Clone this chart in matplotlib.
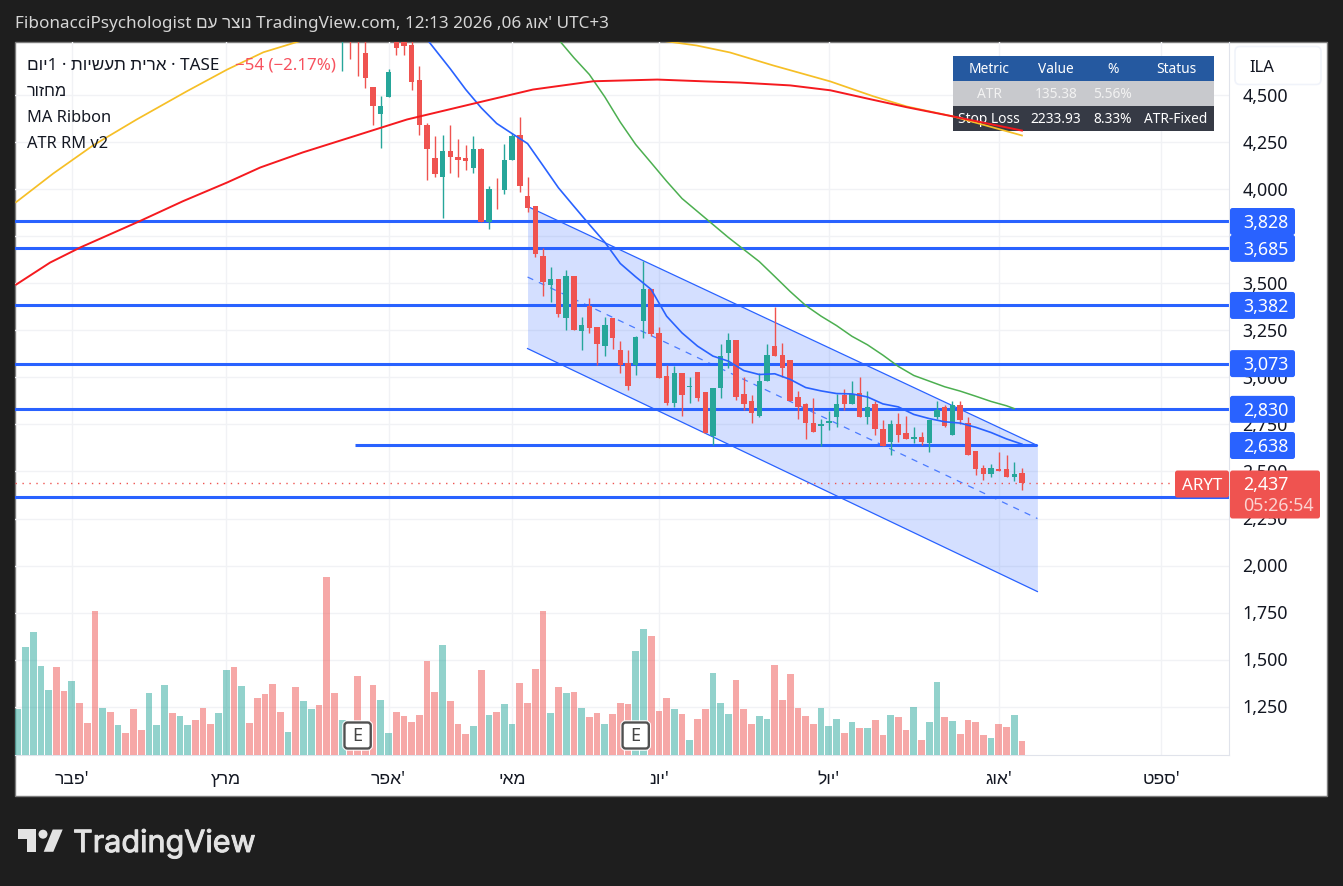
import matplotlib
matplotlib.use('Agg')
import matplotlib.pyplot as plt
from matplotlib.patches import Rectangle, FancyBboxPatch, Polygon, Circle
from matplotlib.transforms import Affine2D, ScaledTranslation, blended_transform_factory
import matplotlib.patheffects as pe
import numpy as np

plt.rcParams['font.family'] = ['Noto Sans', 'Liberation Sans', 'DejaVu Sans']

W, H = 1343, 887


def heb(s):
    # matplotlib has no bidi, hebrew runs go in visual order
    return s[::-1]


# ---- data ----
first_candle = 42
candle_open = [4800, 4850, 4860, 4721, 4540, 4397, 4487, 4810, 4810, 4763, 4582, 4343, 4163, 4062, 4200,
               4173, 4163, 4110, 4211, 3823, 4003, 3993, 4157, 4285, 3966, 3908, 3647, 3488, 3520, 3313,
               3536, 3244, 3377, 3265, 3164, 3313, 3143, 3077, 3068, 3297, 3467, 3233, 3005, 2866, 3021,
               2948, 3026, 2920, 2691, 2941, 3132, 3196, 2909, 2877, 2797, 2978, 3169, 3121, 3090, 2898,
               2856, 2760, 2744, 2755, 2792, 2904, 2861, 2916, 2792, 2856, 2728, 2654, 2750, 2702, 2675,
               2681, 2649, 2787, 2840, 2696, 2851, 2755, 2611, 2516, 2484, 2511, 2511, 2473, 2491]
candle_high = [4900, 4870, 4880, 4790, 4540, 4497, 4636, 4830, 4830, 4800, 4652, 4349, 4280, 4285, 4343,
               4264, 4232, 4280, 4216, 4014, 4057, 4242, 4296, 4381, 4067, 3908, 3685, 3584, 3520, 3568,
               3536, 3318, 3419, 3270, 3323, 3313, 3191, 3143, 3222, 3616, 3467, 3270, 3063, 3058, 3021,
               3000, 3026, 2920, 2946, 3175, 3233, 3196, 3000, 2904, 3021, 3175, 3375, 3180, 3090, 2930,
               2866, 2888, 2781, 2819, 2914, 2936, 2983, 3000, 2925, 2877, 2776, 2771, 2808, 2797, 2734,
               2712, 2776, 2877, 2851, 2877, 2877, 2792, 2611, 2532, 2542, 2606, 2585, 2548, 2521]
candle_low = [4630, 4689, 4600, 4535, 4338, 4218, 4487, 4710, 4715, 4529, 4290, 4051, 4067, 3849, 4083,
              4067, 4104, 4083, 3823, 3786, 3897, 3972, 4157, 3987, 3876, 3642, 3430, 3398, 3318, 3249,
              3249, 3143, 3238, 3063, 3116, 3148, 3021, 2932, 3010, 3207, 3222, 2994, 2851, 2845, 2797,
              2866, 2877, 2702, 2638, 2888, 3052, 2882, 2824, 2755, 2787, 2978, 3116, 3000, 2872, 2781,
              2670, 2712, 2633, 2718, 2734, 2824, 2861, 2792, 2750, 2696, 2633, 2585, 2654, 2675, 2649,
              2638, 2606, 2781, 2734, 2696, 2750, 2585, 2479, 2457, 2473, 2505, 2473, 2452, 2404]
candle_close = [4860, 4790, 4790, 4588, 4441, 4444, 4620, 4752, 4758, 4567, 4338, 4211, 4078, 4200, 4168,
                4157, 4147, 4211, 3823, 3998, 3998, 4157, 4280, 4019, 3902, 3653, 3509, 3520, 3339, 3536,
                3249, 3276, 3260, 3175, 3276, 3207, 3068, 2953, 3212, 3467, 3228, 2999, 2866, 3021, 2904,
                2953, 2888, 2702, 2946, 3116, 3201, 2898, 2861, 2813, 2983, 3121, 3116, 3052, 2872, 2845,
                2755, 2712, 2750, 2766, 2856, 2861, 2914, 2792, 2840, 2723, 2633, 2750, 2696, 2675, 2681,
                2654, 2776, 2824, 2739, 2851, 2771, 2585, 2511, 2484, 2521, 2505, 2473, 2489, 2437]

volume = [138, 324, 369, 267, 195, 264, 192, 222, 156, 96, 432, 141, 129, 90, 66, 138, 75, 186, 90, 210,
          126, 117, 90, 105, 141, 93, 126, 255, 264, 207, 96, 171, 183, 213, 129, 69, 204, 162, 138, 150,
          534, 186, 105, 85, 237, 85, 210, 165, 66, 129, 117, 99, 120, 282, 189, 330, 162, 93, 63, 87,
          255, 120, 129, 153, 93, 216, 156, 258, 432, 126, 204, 186, 189, 141, 114, 126, 93, 123, 156, 153,
          312, 378, 357, 132, 171, 138, 123, 45, 108, 138, 246, 156, 123, 225, 138, 93, 117, 108, 270, 165,
          243, 141, 117, 93, 141, 87, 108, 66, 99, 81, 81, 105, 60, 120, 114, 75, 144, 45, 99, 219,
          114, 102, 63, 105, 99, 60, 51, 93, 84, 120, 42]
volume_side = ('gggggrrgrrrgrgrrrgggrggrrrggrgrrrrrgrggrrr'
               'grrrrggrrrrrrgrrrgrgrggrrrrgrgrgrrgrrrgg'
               'rrrgrgrrgggrrrggrrrrrrgggrgrgrrgrrgrggrgrrrrgrrgr')

ma_blue_x = [53, 56, 58, 60, 62, 64, 66, 68, 70, 72, 74, 76, 78, 80, 82, 84, 86, 88, 90, 92, 94, 96, 98,
             100, 102, 104, 106, 108, 110, 112, 114, 116, 118, 120, 122, 124, 126, 128, 130]
ma_blue = [4795, 4639, 4529, 4432, 4349, 4295, 4242, 4125, 4007, 3909, 3812, 3718, 3605, 3534, 3467, 3325,
           3236, 3166, 3113, 3086, 3036, 3015, 3019, 2989, 2946, 2928, 2914, 2912, 2896, 2859, 2843, 2803,
           2781, 2764, 2757, 2735, 2707, 2673, 2645]
ma_green_x = [70, 72, 74, 76, 78, 80, 82, 84, 86, 88, 90, 92, 94, 96, 98, 100, 102, 104, 106, 108, 110,
              112, 114, 116, 118, 120, 122, 124, 126, 128, 129]
ma_green = [4795, 4698, 4609, 4490, 4356, 4237, 4140, 4042, 3950, 3881, 3812, 3743, 3679, 3615, 3536, 3456,
            3382, 3325, 3275, 3218, 3173, 3118, 3058, 3010, 2980, 2950, 2927, 2900, 2872, 2849, 2834]
ma_yellow_x = [-0.2, 4.6, 9.75, 15.4, 21.9, 27.1, 31.8, 36.5, 50, 65, 83.1, 87.9, 92.2, 97.8, 105.2, 110.7,
               115.1, 121.1, 130]
ma_yellow = [3931, 4083, 4232, 4370, 4520, 4635, 4727, 4786, 4900, 4920, 4790, 4763, 4726, 4657, 4572,
             4494, 4439, 4386, 4285]
ma_red_x = [-0.2, 4.2, 8.1, 15.8, 21.4, 27.1, 31.4, 36.9, 43, 50.4, 59.8, 66.7, 74.5, 82.8, 89.2, 93.5, 100,
            105.2, 110, 115.1, 121.1, 130]
ma_red = [3493, 3610, 3690, 3830, 3936, 4035, 4115, 4195, 4274, 4370, 4462, 4529, 4573, 4582, 4572, 4566,
          4551, 4525, 4481, 4435, 4386, 4311]

channel_x = [66, 132]
channel_top = [3908, 2638]
channel_mid = [3533, 2250]
channel_bot = [3153, 1862]

level_prices = [3828, 3685, 3382, 3073, 2830, 2638, 2367]
level_start = [None, None, None, None, None, 43.7, None]
level_end = [None, None, None, None, None, 132, None]
labelled_levels = [3828, 3685, 3382, 3073, 2830, 2638]
last_price = 2437

price_ticks = [1250, 1500, 1750, 2000, 2250, 2500, 2750, 3000, 3250, 3500, 3750, 4000, 4250, 4500]
month_idx = [7, 27, 48, 64, 83, 105, 127, 148]
month_labels = [heb('פבר') + "'", heb('מרץ'), heb('אפר') + "'", heb('מאי'),
                heb('יונ') + "'", heb('יול') + "'", heb('אוג') + "'", heb('ספט') + "'"]
earnings_idx = [44, 80]

table_cols = [989, 1056, 1113, 1176]
table_rows = [['Metric', 'Value', '%', 'Status'],
              ['ATR', '135.38', '5.56%', ''],
              ['Stop Loss', '2233.93', '8.33%', 'ATR-Fixed']]

# ---- colours ----
UP = '#26a69a'
DOWN = '#ef5350'
LINE = '#2962ff'
INK = '#131722'
DARK = '#1e1e1e'
PRICE_FS = 12.8

fig = plt.figure(figsize=(W / 100, H / 100), dpi=100, facecolor=DARK)
# image pixels, y down (half pixel so lines land on the same rows as the screenshot)
PX = Affine2D().translate(0, 0.5).scale(1 / W, -1 / H).translate(0, 1) + fig.transFigure

fig.add_artist(Rectangle((15, 42), 1312, 754, transform=PX, fc='white', ec='#7d7d7d', lw=1, zorder=-1))

ax = fig.add_axes([15 / W, 1 - 755.5 / H, 1214 / W, 713 / H], zorder=1)
ax.patch.set_visible(False)
ax.set_xlim((15 - 17.7) / 7.725, (1229 - 17.7) / 7.725)
ax.set_ylim(996.4, 4784.25)

# regression channel
ax.fill_between(channel_x, channel_bot, channel_top, color=LINE, alpha=0.2, lw=0, zorder=1.5)
ax.plot(channel_x, channel_top, color=LINE, lw=0.9, zorder=1.6)
ax.plot(channel_x, channel_bot, color=LINE, lw=0.9, zorder=1.6)
ax.plot(channel_x, channel_mid, color=LINE, lw=0.9, ls=(0, (5, 5)), alpha=0.8, zorder=1.6)

# horizontal levels
for p, x0, x1 in zip(level_prices, level_start, level_end):
    if x0 is None:
        ax.axhline(p, color=LINE, lw=2.2, zorder=2)
    else:
        ax.hlines(p, x0, x1, color=LINE, lw=2.2, zorder=2)
ax.axhline(last_price, color=DOWN, lw=1, ls=(0, (1, 4)), zorder=2)

# candles
cx = np.arange(first_candle, first_candle + len(candle_open))
opens, highs, lows, closes = map(np.array, (candle_open, candle_high, candle_low, candle_close))
colors = [UP if c >= o else DOWN for o, c in zip(opens, closes)]
ax.vlines(cx, lows, highs, colors=colors, lw=1.0, zorder=3)
ax.bar(cx, np.maximum(np.abs(closes - opens), 5), bottom=np.minimum(opens, closes),
       width=0.7, color=colors, lw=0, zorder=3.1)

# ma ribbon
ax.plot(ma_yellow_x, ma_yellow, color='#f6bf26', lw=1.25, zorder=4)
ax.plot(ma_red_x, ma_red, color='#f51a1f', lw=1.4, zorder=4.1)
ax.plot(ma_green_x, ma_green, color='#4caf50', lw=1.1, zorder=4)
ax.plot(ma_blue_x, ma_blue, color=LINE, lw=1.2, zorder=4)

# volume on its own scale
ax_vol = ax.twinx()
ax_vol.set_zorder(2)
ax_vol.patch.set_visible(False)
ax_vol.set_ylim(0, 2139)
ax_vol.yaxis.set_visible(False)
for sp in ax_vol.spines.values():
    sp.set_visible(False)
vol_colors = [UP if s == 'g' else DOWN for s in volume_side]
ax_vol.bar(np.arange(len(volume)), volume, width=0.87, color=vol_colors, alpha=0.5, lw=0)

# earnings flags, x from the bar, y in pixels
flag_tr = blended_transform_factory(ax_vol.transData, PX)
for i in earnings_idx:
    for ec, lw in (('white', 3.2), ('#505050', 1.7)):
        ax_vol.add_patch(FancyBboxPatch((i - 1.7, 723), 3.4, 26, transform=flag_tr, fc='white', ec=ec, lw=lw,
                                        boxstyle='round,pad=0,rounding_size=0.4', mutation_aspect=7.725,
                                        clip_on=False, zorder=5))
    ax_vol.text(i, 736, 'E', transform=flag_tr, ha='center', va='center', fontsize=13, color='#454545', zorder=6)

# twinx puts the ticks back on the left, so set them up here
ax.set_yticks(price_ticks)
ax.set_yticklabels([f'{p:,}' for p in price_ticks], fontsize=PRICE_FS, color=INK)
ax.yaxis.tick_right()
ax.tick_params(axis='y', length=0, pad=9.5)
# screenshot labels sit a little above their grid lines
label_up = ScaledTranslation(0, 1.5 / 100, fig.dpi_scale_trans)
for lab in ax.yaxis.get_majorticklabels():
    lab.set_transform(lab.get_transform() + label_up)
ax.set_xticks(month_idx)
ax.set_xticklabels(month_labels, fontsize=12.6, color=INK)
ax.tick_params(axis='x', length=0, pad=10.5)
ax.grid(color='#f1f2f5', lw=1)
ax.set_axisbelow(True)
for name, sp in ax.spines.items():
    sp.set_visible(name in ('right', 'bottom'))
    sp.set_color('#e0e3eb')

# table (lines run over it, so it sits under them)
row_bg = ['#2559a0', '#c8c9cd', '#363a45']
row_y = [56, 81, 106, 131]
row_fg = ['white', '#f2f2f2', 'white']
for r, cells in enumerate(table_rows):
    ax.add_patch(Rectangle((953, row_y[r]), 261, row_y[r + 1] - row_y[r], transform=PX, fc=row_bg[r],
                           lw=0, clip_on=False, zorder=3.5))
    for col, txt in zip(table_cols, cells):
        ax.text(col, (row_y[r] + row_y[r + 1]) / 2 + 0.5, txt, transform=PX, ha='center', va='center',
                fontsize=9.9, color=row_fg[r], zorder=3.6)


# price axis furniture
def tag(x0, x1, y0, y1, color):
    ax.add_patch(FancyBboxPatch((x0, y0), x1 - x0, y1 - y0, transform=PX, fc=color, ec='none', clip_on=False,
                                boxstyle='round,pad=0,rounding_size=2.5', mutation_aspect=1, zorder=6))


for p in labelled_levels:
    yc = 446 + (2638 - p) / 5.3125
    tag(1230, 1295, yc - 13.5, yc + 13.5, LINE)
    ax.text(1265.5, yc + 0.5, f'{p:,}', transform=PX, ha='center', va='center', fontsize=PRICE_FS, color='white',
            zorder=7)

tag(1175, 1229, 471, 498, DOWN)
tag(1230, 1320, 471, 519, DOWN)
ax.text(1202, 485.5, 'ARYT', transform=PX, ha='center', va='center', fontsize=12.2, color='white', zorder=7)
ax.text(1243, 484.5, f'{last_price:,}', transform=PX, ha='left', va='center', fontsize=PRICE_FS, color='white', zorder=7)
ax.text(1243, 506, '05:26:54', transform=PX, ha='left', va='center', fontsize=PRICE_FS, color='#fbd3d1', zorder=7)

ax.add_patch(FancyBboxPatch((1235, 47), 86, 38, transform=PX, fc='white', ec='#f0f3fa', lw=1.2, clip_on=False,
                            boxstyle='round,pad=0,rounding_size=5', zorder=6))
ax.text(1249, 67, 'ILA', transform=PX, ha='left', va='center', fontsize=12, color=INK, zorder=7)

# legend lines
ax.text(27, 65, heb('ארית תעשיות · 1יום') + ' · TASE', transform=PX, va='center', fontsize=12.3, color=INK, zorder=8)
ax.text(235, 65, '−54 (−2.17%)', transform=PX, va='center', fontsize=12.2, color='#f7525f', zorder=8)
for y, txt in zip([91, 117, 143], [heb('מחזור'), 'MA Ribbon', 'ATR RM v2']):
    ax.text(27, y, txt, transform=PX, va='center', fontsize=11.8, color=INK, zorder=8)

# header and footer
fig.text(15 / W, 1 - 24 / H, 'FibonacciPsychologist ' + heb('נוצר עם') + ' TradingView.com, 12:13 2026 ,06 '
         + heb('אוג') + "' UTC+3", ha='left', va='center', fontsize=12.3, color='#d6d6d6')

logo = '#e3e3e3'
fig.add_artist(Polygon([(18.3, 830), (36, 830), (36, 852.3), (26.7, 852.3), (26.7, 839.3), (18.3, 839.3)],
                       transform=PX, fc=logo, lw=0))
fig.add_artist(Circle((43, 834.7), 4.5, transform=PX, fc=logo, lw=0))
fig.add_artist(Polygon([(52.7, 830), (62.7, 830), (53.3, 852.3), (43.7, 852.3)], transform=PX, fc=logo, lw=0))
fig.text(73 / W, 1 - 853 / H, 'TradingView', ha='left', va='baseline', fontsize=22,
         family=['Inter', 'DejaVu Sans'], color=logo,
         path_effects=[pe.withStroke(linewidth=0.7, foreground=logo)])

fig.savefig('out.png', dpi=100, facecolor=DARK)
